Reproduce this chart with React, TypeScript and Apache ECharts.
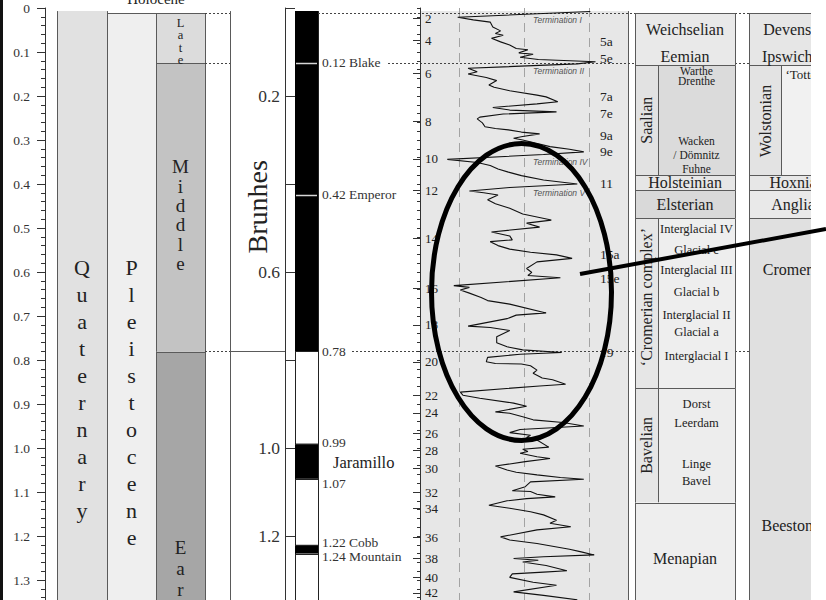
import { useEffect, useRef } from "react";
import * as echarts from "echarts";

// ---------------- DATA ----------------
// Age axis (Ma)
const AGE_MIN = 0;
const AGE_MAX = 1.4;
const AGE_STEP = 0.1;
const POLARITY_AXIS_STEP = 0.2;
const polarityAxisHiddenLabels = [0, 0.4, 0.8, 1.4];

// Chronostratigraphy
const systemNames = ["Quaternary"];
const systemBounds = [0, 2.58];
const seriesNames = ["Holocene", "Pleistocene"];
const seriesBounds = [0, 0.0117, 2.58];
const subseriesNames = ["Late", "Middle", "Early"];
const subseriesBounds = [0.0117, 0.126, 0.781, 1.806];

// Magnetostratigraphy
const chronNames = ["Brunhes", "Matuyama"];
const chronBounds = [0, 0.78, 2.58];
const normalPolarityTops = [0, 0.99, 1.22];
const normalPolarityBases = [0.78, 1.07, 1.24];
const excursionAges = [0.124, 0.424];
const excursionLabels = ["0.12 Blake", "0.42 Emperor"];
const reversalLabels = ["0.78", "0.99", "1.07", "1.22 Cobb", "1.24 Mountain"];
const reversalLabelAges = [0.78, 0.988, 1.08, 1.215, 1.247];
const subchronLabels = ["Jaramillo"];
const subchronLabelAges = [1.033];

// Marine isotope stages
const misNumbers = [2, 4, 6, 8, 10, 12, 14, 16, 18, 20, 22, 24, 26, 28, 30, 32, 34, 36, 38, 40, 42];
const misAges = [0.024, 0.073, 0.148, 0.258, 0.343, 0.414, 0.523, 0.637, 0.72, 0.804, 0.88, 0.92, 0.967, 1.006, 1.046, 1.101, 1.137, 1.203, 1.251, 1.294, 1.329];
const substageLabels = ["5a", "5e", "7a", "7e", "9a", "9e", "11", "15a", "15e", "19"];
const substageAges = [0.077, 0.114, 0.2, 0.239, 0.289, 0.327, 0.398, 0.561, 0.614, 0.782];
const terminationNames = ["Termination I", "Termination II", "Termination IV", "Termination V"];
const terminationAges = [0.027, 0.143, 0.35, 0.42];
const isoGuideValues = [4.0, 4.5, 5.0];

// Benthic d18O curve (age Ma, value per mil)
const isoAges = [
  0.008, 0.021, 0.027, 0.032, 0.043, 0.052, 0.058, 0.062, 0.069, 0.077,
  0.084, 0.092, 0.095, 0.102, 0.105, 0.112, 0.117, 0.122, 0.127, 0.137,
  0.145, 0.150, 0.158, 0.165, 0.175, 0.180, 0.188, 0.198, 0.202, 0.213,
  0.218, 0.226, 0.232, 0.236, 0.241, 0.248, 0.252, 0.261, 0.270, 0.274,
  0.277, 0.282, 0.286, 0.292, 0.296, 0.300, 0.315, 0.321, 0.327, 0.333,
  0.344, 0.351, 0.358, 0.366, 0.373, 0.381, 0.391, 0.400, 0.408, 0.416,
  0.420, 0.425, 0.436, 0.445, 0.455, 0.468, 0.482, 0.489, 0.498, 0.509,
  0.518, 0.527, 0.531, 0.540, 0.548, 0.555, 0.561, 0.569, 0.577, 0.592,
  0.601, 0.608, 0.613, 0.631, 0.635, 0.641, 0.648, 0.658, 0.665, 0.673,
  0.693, 0.698, 0.706, 0.723, 0.726, 0.733, 0.747, 0.761, 0.770, 0.777,
  0.783, 0.787, 0.794, 0.804, 0.808, 0.809, 0.813, 0.823, 0.830, 0.841,
  0.845, 0.855, 0.859, 0.873, 0.880, 0.887, 0.898, 0.905, 0.918, 0.921,
  0.929, 0.936, 0.942, 0.950, 0.958, 0.965, 0.971, 0.976, 0.982, 0.998,
  1.003, 1.008, 1.012, 1.020, 1.024, 1.031, 1.041, 1.050, 1.055, 1.061,
  1.067, 1.071, 1.077, 1.088, 1.097, 1.099, 1.105, 1.111, 1.115, 1.120,
  1.130, 1.137, 1.145, 1.152, 1.164, 1.171, 1.179, 1.186, 1.202, 1.209,
  1.217, 1.230, 1.236, 1.243, 1.247, 1.251, 1.255, 1.259, 1.267, 1.279,
  1.282, 1.286, 1.294, 1.305, 1.312, 1.327, 1.335, 1.345,
];
const isoValues = [
  3.99, 5.01, 4.89, 4.76, 4.74, 4.68, 4.72, 4.66, 4.75, 4.68,
  4.61, 4.56, 4.47, 4.54, 4.43, 4.53, 4.39, 3.95, 4.09, 4.93,
  4.86, 4.93, 4.79, 4.71, 4.77, 4.73, 4.61, 4.40, 4.33, 4.24,
  4.40, 4.74, 4.61, 4.25, 4.66, 4.84, 4.86, 4.82, 4.80, 4.72,
  4.62, 4.52, 4.38, 4.51, 4.58, 4.51, 4.30, 4.15, 4.04, 4.35,
  5.09, 4.86, 4.76, 4.70, 4.62, 4.52, 4.35, 4.09, 4.61, 4.92,
  4.81, 4.70, 4.78, 4.72, 4.61, 4.51, 4.29, 4.48, 4.38, 4.75,
  4.61, 4.59, 4.76, 4.70, 4.61, 4.45, 4.25, 4.13, 4.40, 4.48,
  4.44, 4.47, 4.22, 5.04, 4.92, 4.99, 4.92, 4.83, 4.78, 4.61,
  4.33, 4.56, 4.63, 4.93, 4.76, 4.61, 4.71, 4.71, 4.63, 4.51,
  4.21, 4.53, 4.78, 4.79, 4.72, 4.52, 4.45, 4.40, 4.43, 4.36,
  4.28, 4.18, 4.38, 4.99, 4.97, 4.84, 4.58, 4.48, 4.72, 4.61,
  4.51, 4.43, 4.20, 4.04, 4.53, 4.61, 4.45, 4.48, 4.40, 4.31,
  4.51, 4.47, 4.53, 4.40, 4.30, 4.49, 4.72, 4.63, 4.56, 4.40,
  4.22, 4.04, 4.45, 4.49, 4.59, 4.45, 4.40, 4.26, 4.48, 4.63,
  4.77, 4.61, 4.45, 4.35, 4.25, 4.30, 4.14, 4.40, 4.68, 4.61,
  4.40, 4.15, 4.06, 3.96, 4.35, 4.58, 4.39, 4.51, 4.33, 4.17,
  4.35, 4.59, 4.61, 4.43, 4.25, 4.58, 4.35, 4.09,
];
const ISO_MIN = 3.7;
const ISO_MAX = 5.3;

// Dutch (NW Europe) stages
const nlUnitTops = [0.0117, 0.13, 0.38, 0.414, 0.478, 0.864, 1.124];
const nlUnitBases = [0.13, 0.38, 0.414, 0.478, 0.864, 1.124, 1.8];
const nlStageNames = ["Weichselian", "Eemian", "Holsteinian", "Elsterian", "Menapian"];
const nlStageLabelAges = [0.048, 0.111, 0.397, 0.446, 1.252];
const nlGroupNames = ["Saalian", "\u2018Cromerian complex\u2019", "Bavelian"];
const nlGroupLabelAges = [0.255, 0.657, 0.994];
const nlSubNames = ["Warthe", "Drenthe", "Wacken", "/ D\u00f6mnitz", "Fuhne", "Interglacial IV", "Glacial c", "Interglacial III", "Glacial b", "Interglacial II", "Glacial a", "Interglacial I", "Dorst", "Leerdam", "Linge", "Bavel"];
const nlSubAges = [0.143, 0.167, 0.302, 0.334, 0.366, 0.502, 0.55, 0.595, 0.645, 0.698, 0.736, 0.791, 0.9, 0.943, 1.036, 1.075];

// British stages
const gbUnitTops = [0.0117, 0.13, 0.38, 0.414, 0.478];
const gbUnitBases = [0.13, 0.38, 0.414, 0.478, 1.8];
const gbStageNames = ["Devensian", "Ipswichian", "Hoxnian", "Anglian", "Cromerian", "Beestonian"];
const gbStageLabelAges = [0.048, 0.111, 0.397, 0.446, 0.595, 1.175];
const gbGroupNames = ["Wolstonian"];
const gbGroupLabelAges = [0.257];
const gbSubNames = ["\u2018Tottenhill\u2019"];
const gbSubAges = [0.152];

// Boundaries continued across the figure as dotted lines
const dottedBoundaryAges = [0.0117, 0.126, 0.78];

// ---------------- LAYOUT / STYLE ----------------
const SERIF = '"Liberation Serif", "Times New Roman", "DejaVu Serif", serif';
const SANS = '"Liberation Sans", Arial, "DejaVu Sans", sans-serif';
const W = 826;
const H = 600;
const PLOT_TOP = 8;
const PLOT_HEIGHT = 616; // 440 px per Ma
const TOP_AGE = 0.007; // figure is cropped just above this
const LINE = "#5a5a5a";
const TEXT = "#222";

const LAYOUT = {
  system: [57, 107],
  pleist: [107, 156],
  subseries: [156, 205],
  holocene: [107, 205],
  chron: [230, 285],
  polarity: [295, 318],
  polarityLabelX: 322,
  subchronLabelX: 333,
  iso: [420, 628],
  substageX: 600,
  terminationX: 533,
  nl: [635, 735],
  nlSplit: 658,
  gb: [749, 850],
  gbSplit: 781,
  dottedSpans: [
    [[205, 230], [318, 635], [735, 749]],
    [[205, 230], [388, 635], [735, 749]],
    [[205, 230], [352, 635], [735, 749]],
  ],
};
const subseriesFills = ["#dcdcdc", "#c3c3c3", "#a6a6a6"];
const nlSplitUnit = [false, true, false, false, true, true, false];
const nlFills = ["#e9e9e9", "#dbdbdb", "#e6e6e6", "#d9d9d9", "#eeeeee", "#ededed", "#eeeeee"];
const nlSideFills = ["#e9e9e9", "#e2e2e2", "#e6e6e6", "#d9d9d9", "#e6e6e6", "#e6e6e6", "#eeeeee"];
const gbSplitUnit = [false, true, false, false, false];
const gbFills = ["#e6e6e6", "#f1f1f1", "#e7e7e7", "#e9e9e9", "#e0e0e0"];
const gbSideFills = ["#e6e6e6", "#e3e3e3", "#e7e7e7", "#e9e9e9", "#e0e0e0"];

// column label placement (top of stacked letters, in Ma) and type sizes
const stackedLabels = [
  { text: systemNames[0], x: 82, age: 0.56, size: 22, lh: 27 },
  { text: seriesNames[1], x: 131.5, age: 0.56, size: 22, lh: 27 },
  { text: subseriesNames[0], x: 180.5, age: 0.019, size: 12.5, lh: 12.5 },
  { text: subseriesNames[1], x: 180.5, age: 0.339, size: 19, lh: 19.3 },
  { text: subseriesNames[2], x: 180.5, age: 1.203, size: 19, lh: 21 },
];

// ---------------- HELPERS ----------------
function geo(api: any) {
  const Y = (age: number) => api.coord([0, age])[1];
  const X = (px: number) => api.coord([px, 0])[0];
  const clampT = (a: number) => Math.max(a, TOP_AGE);
  const clampB = (a: number) => Math.min(a, AGE_MAX);
  const rect = (x0: number, x1: number, a0: number, a1: number, fill: string) => {
    const y0 = Y(clampT(a0));
    const y1 = Y(clampB(a1));
    return { type: "rect", shape: { x: X(x0), y: y0, width: X(x1) - X(x0), height: y1 - y0 }, style: { fill } };
  };
  const hline = (x0: number, x1: number, age: number, stroke = LINE, lineWidth = 1, lineDash?: number[]) => {
    const y = Math.round(Y(age)) + 0.5;
    return { type: "line", shape: { x1: X(x0), y1: y, x2: X(x1), y2: y }, style: { stroke, lineWidth, lineDash } };
  };
  const vline = (x: number, a0: number, a1: number, stroke = LINE, lineWidth = 1) => {
    const xx = Math.round(X(x)) + 0.5;
    return { type: "line", shape: { x1: xx, y1: Y(clampT(a0)), x2: xx, y2: Y(clampB(a1)) }, style: { stroke, lineWidth } };
  };
  const box = (x0: number, x1: number, top: number, base: number, fill: string, stroke = LINE) => {
    const els: any[] = [rect(x0, x1, top, base, fill), vline(x0, top, base, stroke), vline(x1, top, base, stroke)];
    if (top > TOP_AGE) els.push(hline(x0, x1, top, stroke));
    return els;
  };
  const text = (x: number, age: number, s: string, st: any = {}, rotation = 0) => ({
    type: "text",
    x: X(x),
    y: Y(age),
    rotation,
    style: {
      text: s,
      fill: TEXT,
      fontFamily: SERIF,
      fontSize: 14,
      align: "center",
      verticalAlign: "middle",
      ...st,
    },
  });
  return { Y, X, rect, hline, vline, box, text };
}

function renderBackground(_p: any, api: any) {
  const g = geo(api);
  const L = LAYOUT;
  return {
    type: "group",
    children: [g.rect(L.iso[0], L.iso[1], 0, AGE_MAX, "#e7e7e7"), g.vline(L.iso[1], 0, AGE_MAX, LINE)],
  };
}

function renderColumns(_p: any, api: any) {
  const g = geo(api);
  const L = LAYOUT;
  const ch: any[] = [];
  // Quaternary / Pleistocene / subseries
  ch.push(...g.box(L.system[0], L.system[1], systemBounds[0], systemBounds[1], "#e1e1e1"));
  ch.push(g.hline(L.holocene[0], L.holocene[1], seriesBounds[1]));
  ch.push(...g.box(L.pleist[0], L.pleist[1], seriesBounds[1], seriesBounds[2], "#efefef"));
  subseriesNames.forEach((_n, i) =>
    ch.push(...g.box(L.subseries[0], L.subseries[1], subseriesBounds[i], subseriesBounds[i + 1], subseriesFills[i]))
  );
  // chrons
  chronNames.forEach((_n, i) => ch.push(...g.box(L.chron[0], L.chron[1], chronBounds[i], chronBounds[i + 1], "#ffffff")));
  // polarity column
  ch.push(...g.box(L.polarity[0], L.polarity[1], 0, AGE_MAX, "#ffffff", "#222"));
  normalPolarityTops.forEach((t, i) => ch.push(g.rect(L.polarity[0], L.polarity[1], t, normalPolarityBases[i], "#000")));
  normalPolarityTops.forEach((t, i) => {
    if (t > TOP_AGE) ch.push(g.hline(L.polarity[0], L.polarity[1], t, "#222"));
    ch.push(g.hline(L.polarity[0], L.polarity[1], normalPolarityBases[i], "#222"));
  });
  excursionAges.forEach((a) => ch.push(g.hline(L.polarity[0] + 1, L.polarity[1] - 1, a, "#d6d6d6", 1.5)));
  // dotted boundaries
  dottedBoundaryAges.forEach((a, i) =>
    L.dottedSpans[i].forEach((s) => ch.push(g.hline(s[0], s[1], a, "#444", 1, [2, 2])))
  );
  // Dutch table
  nlUnitTops.forEach((top, i) => {
    const base = nlUnitBases[i];
    if (nlSplitUnit[i]) {
      ch.push(g.rect(L.nl[0], L.nlSplit, top, base, nlSideFills[i]));
      ch.push(g.rect(L.nlSplit, L.nl[1], top, base, nlFills[i]));
      ch.push(g.vline(L.nlSplit, top, base));
    } else ch.push(g.rect(L.nl[0], L.nl[1], top, base, nlFills[i]));
    ch.push(g.hline(L.nl[0], L.nl[1], top));
    ch.push(g.vline(L.nl[0], top, base));
    ch.push(g.vline(L.nl[1], top, base));
  });
  // British table
  gbUnitTops.forEach((top, i) => {
    const base = gbUnitBases[i];
    if (gbSplitUnit[i]) {
      ch.push(g.rect(L.gb[0], L.gbSplit, top, base, gbSideFills[i]));
      ch.push(g.rect(L.gbSplit, L.gb[1], top, base, gbFills[i]));
      ch.push(g.vline(L.gbSplit, top, base));
    } else ch.push(g.rect(L.gb[0], L.gb[1], top, base, gbFills[i]));
    ch.push(g.hline(L.gb[0], L.gb[1], top));
    ch.push(g.vline(L.gb[0], top, base));
  });
  return { type: "group", children: ch };
}

function renderLabels(_p: any, api: any) {
  const g = geo(api);
  const L = LAYOUT;
  const ch: any[] = [];
  stackedLabels.forEach((s) =>
    ch.push(g.text(s.x, s.age, s.text.split("").join("\n"), { fontSize: s.size, lineHeight: s.lh, verticalAlign: "top" }))
  );
  ch.push(g.text((L.holocene[0] + L.holocene[1]) / 2, -0.02, seriesNames[0], { fontSize: 15 }));
  ch.push(g.text((L.chron[0] + L.chron[1]) / 2, 0.452, chronNames[0], { fontSize: 28 }, Math.PI / 2));
  excursionLabels.forEach((s, i) =>
    ch.push(g.text(L.polarityLabelX, excursionAges[i], s, { fontSize: 13.5, align: "left", fill: "#333" }))
  );
  reversalLabels.forEach((s, i) =>
    ch.push(g.text(L.polarityLabelX, reversalLabelAges[i], s, { fontSize: 13.5, align: "left", fill: "#333" }))
  );
  subchronLabels.forEach((s, i) =>
    ch.push(g.text(L.subchronLabelX, subchronLabelAges[i], s, { fontSize: 16.5, align: "left", fill: "#222" }))
  );
  substageLabels.forEach((s, i) => ch.push(g.text(L.substageX, substageAges[i], s, { fontSize: 13.5, align: "left" })));
  terminationNames.forEach((s, i) =>
    ch.push(
      g.text(L.terminationX, terminationAges[i], s, {
        fontSize: 8.5,
        fontFamily: SANS,
        fontStyle: "italic",
        fill: "#555",
        align: "left",
      })
    )
  );
  // Dutch
  const nlC = (L.nl[0] + L.nl[1]) / 2;
  const nlSideC = (L.nl[0] + L.nlSplit) / 2;
  const nlSubC = (L.nlSplit + L.nl[1]) / 2;
  nlStageNames.forEach((s, i) => ch.push(g.text(nlC, nlStageLabelAges[i], s, { fontSize: 16 })));
  nlGroupNames.forEach((s, i) => ch.push(g.text(nlSideC, nlGroupLabelAges[i], s, { fontSize: 16 }, Math.PI / 2)));
  nlSubNames.forEach((s, i) =>
    ch.push(g.text(nlSubC, nlSubAges[i], s, { fontSize: i < 5 ? 11.5 : 12.5, lineHeight: i < 5 ? 11 : 14 }))
  );
  // British
  const gbC = 797;
  const gbSideC = (L.gb[0] + L.gbSplit) / 2;
  const gbSubC = 815;
  gbStageNames.forEach((s, i) => ch.push(g.text(gbC, gbStageLabelAges[i], s, { fontSize: 16 })));
  gbGroupNames.forEach((s, i) => ch.push(g.text(gbSideC, gbGroupLabelAges[i], s, { fontSize: 16 }, Math.PI / 2)));
  gbSubNames.forEach((s, i) => ch.push(g.text(gbSubC, gbSubAges[i], s, { fontSize: 13 })));
  return { type: "group", children: ch };
}

function customSeries(renderItem: any, z: number) {
  return {
    type: "custom",
    coordinateSystem: "cartesian2d",
    xAxisIndex: 0,
    yAxisIndex: 0,
    data: [[0, 0]],
    renderItem,
    silent: true,
    clip: false,
    z,
  };
}

const ageAxisBase = { type: "value", min: AGE_MIN, max: AGE_MAX, inverse: true, splitLine: { show: false }, z: 10 };
const isTenth = (v: number) => Math.abs(v * 10 - Math.round(v * 10)) < 1e-6;

function buildOption(): any {
  const gridBase = { top: PLOT_TOP, height: PLOT_HEIGHT, outerBoundsMode: "none", containLabel: false };
  return {
    animation: false,
    backgroundColor: "#ffffff",
    grid: [
      { ...gridBase, left: 0, width: W },
      { ...gridBase, left: 45, width: 10 },
      { ...gridBase, left: LAYOUT.chron[1], width: LAYOUT.polarity[0] - LAYOUT.chron[1] },
      { ...gridBase, left: LAYOUT.iso[0], width: LAYOUT.iso[1] - LAYOUT.iso[0] },
    ],
    xAxis: [
      { gridIndex: 0, type: "value", min: 0, max: W, show: false },
      { gridIndex: 1, type: "value", min: 0, max: 1, show: false },
      { gridIndex: 2, type: "value", min: 0, max: 1, show: false },
      { gridIndex: 3, type: "value", min: ISO_MIN, max: ISO_MAX, inverse: true, show: false },
    ],
    yAxis: [
      { ...ageAxisBase, gridIndex: 0, show: false },
      {
        ...ageAxisBase,
        gridIndex: 1,
        position: "left",
        interval: AGE_STEP,
        axisLine: { show: true, lineStyle: { color: "#333", width: 1 } },
        axisTick: { show: true, inside: false, length: 8, lineStyle: { color: "#333", width: 1 } },
        minorTick: { show: true, splitNumber: 5, length: 4, lineStyle: { color: "#333", width: 1 } },
        minorSplitLine: { show: false },
        axisLabel: {
          show: true,
          margin: 15,
          fontSize: 13.5,
          color: "#333",
          fontFamily: SERIF,
          hideOverlap: false,
          formatter: (v: number) => (v > 1.35 || !isTenth(v) ? "" : v === 0 ? "0" : v.toFixed(1)),
        },
      },
      {
        ...ageAxisBase,
        gridIndex: 2,
        position: "left",
        interval: POLARITY_AXIS_STEP,
        axisLine: { show: true, lineStyle: { color: "#333", width: 1 } },
        axisTick: { show: true, inside: true, length: 10, lineStyle: { color: "#333", width: 1 } },
        axisLabel: {
          show: true,
          margin: 5,
          fontSize: 17.5,
          color: "#333",
          fontFamily: SERIF,
          hideOverlap: false,
          formatter: (v: number) =>
            polarityAxisHiddenLabels.some((h) => Math.abs(h - v) < 1e-6) ? "" : v.toFixed(1),
        },
      },
      {
        ...ageAxisBase,
        gridIndex: 3,
        position: "left",
        interval: AGE_STEP,
        axisLine: { show: true, lineStyle: { color: "#333", width: 1 } },
        axisTick: { show: true, inside: false, length: 3, lineStyle: { color: "#333", width: 1 } },
        minorTick: { show: true, splitNumber: 5, length: 3, lineStyle: { color: "#333", width: 1 } },
        minorSplitLine: { show: false },
        axisLabel: { show: false },
      },
      {
        ...ageAxisBase,
        gridIndex: 3,
        position: "left",
        axisLine: { show: false },
        axisTick: { show: true, inside: false, length: 7, customValues: misAges, lineStyle: { color: "#333", width: 1 } },
        axisLabel: {
          show: true,
          inside: true,
          margin: 5,
          customValues: misAges,
          fontSize: 13,
          color: "#222",
          fontFamily: SERIF,
          hideOverlap: false,
          formatter: (v: number) => {
            const i = misAges.findIndex((a) => Math.abs(a - v) < 1e-6);
            return i >= 0 ? String(misNumbers[i]) : "";
          },
        },
      },
    ],
    series: [
      customSeries(renderBackground, 1),
      customSeries(renderColumns, 2),
      {
        type: "line",
        name: "benthic d18O",
        xAxisIndex: 3,
        yAxisIndex: 3,
        data: isoAges.map((a, i) => [isoValues[i], a]),
        showSymbol: false,
        symbol: "none",
        silent: true,
        lineStyle: { color: "#111", width: 1.1 },
        z: 3,
        markLine: {
          silent: true,
          symbol: ["none", "none"],
          label: { show: false },
          lineStyle: { type: [9, 6], color: "#a3a3a3", width: 1 },
          data: isoGuideValues.map((v) => ({ xAxis: v })),
          z: 2,
        },
      },
      customSeries(renderLabels, 4),
    ],
    graphic: [
      { type: "rect", shape: { x: 0, y: 0, width: 3, height: H }, style: { fill: "#111" }, z: 100 },
      { type: "rect", shape: { x: 811, y: 0, width: W - 811, height: H }, style: { fill: "#ffffff" }, z: 100 },
      {
        type: "ellipse",
        shape: { cx: 521.5, cy: 292, rx: 90, ry: 148.5 },
        style: { fill: "none", stroke: "#000", lineWidth: 5 },
        z: 101,
      },
      { type: "line", shape: { x1: 580, y1: 274, x2: 826, y2: 229 }, style: { stroke: "#000", lineWidth: 4 }, z: 101 },
    ],
  };
}

export default function App() {
  const ref = useRef<HTMLDivElement>(null);
  useEffect(() => {
    const el = ref.current;
    if (!el) return;
    const chart = echarts.init(el, null, { renderer: "svg" });
    chart.setOption(buildOption());
    return () => chart.dispose();
  }, []);
  return (
    <div
      ref={ref}
      style={{ position: "absolute", left: 0, top: 0, width: W, height: H, background: "#fff", overflow: "hidden" }}
    />
  );
}
